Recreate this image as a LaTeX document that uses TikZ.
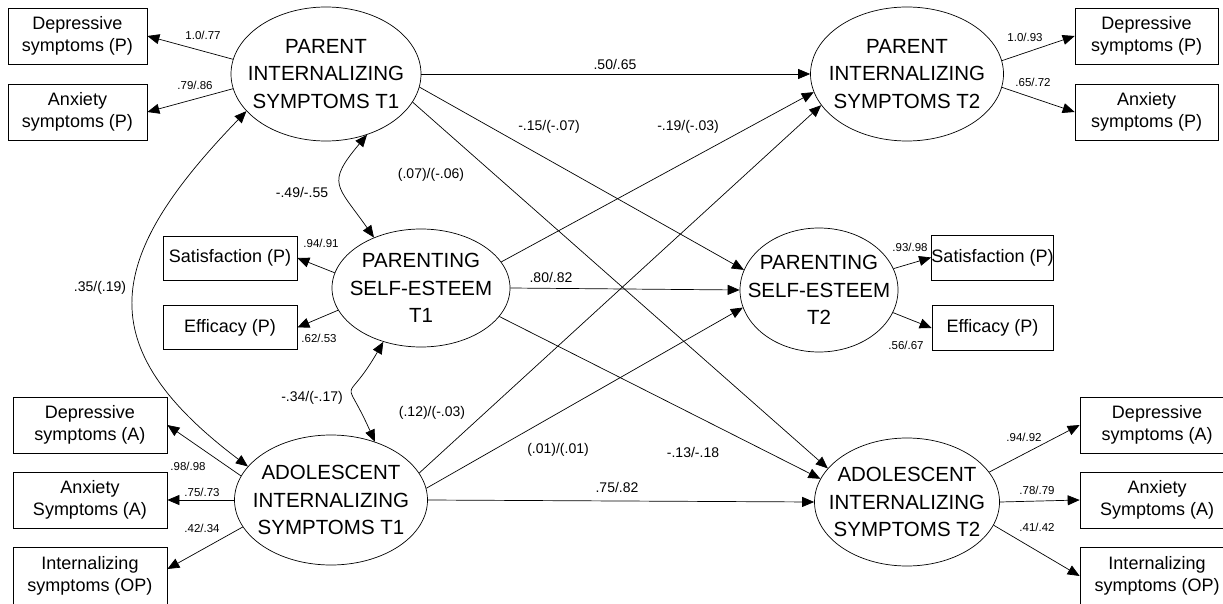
\documentclass[tikz,border=0pt]{standalone}
\usepackage{fontspec}
\setmainfont{Liberation Sans}
\usetikzlibrary{shapes,arrows.meta,positioning,calc}

\begin{document}
\begin{tikzpicture}[x=1pt,y=1pt,>={Triangle[length=12pt,width=10pt]},
    latent/.style={ellipse, draw, line width=0.7pt, align=center,
        inner xsep=-40pt, inner ysep=-20pt, font=\fontsize{20.5}{27.5}\selectfont},
    manifest/.style={rectangle, draw, line width=0.7pt, align=center,
        inner sep=0pt, font=\fontsize{18}{22.5}\selectfont},
    load/.style={font=\fontsize{11.5}{13}\selectfont, inner sep=0pt},
    coef/.style={font=\fontsize{14}{16}\selectfont, inner sep=0pt},
    every path/.style={line width=0.7pt}]
\useasboundingbox (0,0) rectangle (1223,-604);

% Latent variables
\node[latent, minimum width=190pt, minimum height=134pt] (pit1) at (326,-74) {PARENT\\INTERNALIZING\\SYMPTOMS T1};
\node[latent, minimum width=193pt, minimum height=134pt] (pit2) at (907,-74) {PARENT\\INTERNALIZING\\SYMPTOMS T2};
\node[latent, minimum width=178pt, minimum height=118pt] (pse1) at (421,-288) {PARENTING\\SELF-ESTEEM\\T1};
\node[latent, minimum width=158pt, minimum height=124pt] (pse2) at (819,-290) {PARENTING\\SELF-ESTEEM\\T2};
\node[latent, minimum width=193pt, minimum height=130pt] (ait1) at (331,-500) {ADOLESCENT\\INTERNALIZING\\SYMPTOMS T1};
\node[latent, minimum width=185pt, minimum height=128pt] (ait2) at (907,-502) {ADOLESCENT\\INTERNALIZING\\SYMPTOMS T2};

% Indicators
\node[manifest, minimum width=139pt, minimum height=56pt] (depP1) at (77.5,-36) {Depressive\\symptoms (P)};
\node[manifest, minimum width=139pt, minimum height=56pt] (anxP1) at (77.5,-112) {Anxiety\\symptoms (P)};
\node[manifest, minimum width=143pt, minimum height=56pt] (depP2) at (1146.5,-36) {Depressive\\symptoms (P)};
\node[manifest, minimum width=143pt, minimum height=56pt] (anxP2) at (1146.5,-112) {Anxiety\\symptoms (P)};
\node[manifest, minimum width=134pt, minimum height=44pt] (sat1) at (230,-258) {Satisfaction (P)};
\node[manifest, minimum width=134pt, minimum height=44pt] (eff1) at (230,-327.5) {Efficacy (P)};
\node[manifest, minimum width=121pt, minimum height=45pt] (sat2) at (992.5,-257.5) {Satisfaction (P)};
\node[manifest, minimum width=121pt, minimum height=45pt] (eff2) at (992.5,-328) {Efficacy (P)};
\node[manifest, minimum width=154pt, minimum height=56pt] (depA1) at (90,-425) {Depressive\\symptoms (A)};
\node[manifest, minimum width=154pt, minimum height=56pt] (anxA1) at (90,-500) {Anxiety\\Symptoms (A)};
\node[manifest, minimum width=154pt, minimum height=57pt] (intA1) at (90,-576) {Internalizing\\symptoms (OP)};
\node[manifest, minimum width=154pt, minimum height=56pt] (depA2) at (1157,-425) {Depressive\\symptoms (A)};
\node[manifest, minimum width=154pt, minimum height=56pt] (anxA2) at (1157,-500) {Anxiety\\Symptoms (A)};
\node[manifest, minimum width=154pt, minimum height=57pt] (intA2) at (1157,-576) {Internalizing\\symptoms (OP)};

% Loadings
\draw[->] (pit1.171) -- (depP1.east);
\draw[->] (pit1.189) -- (anxP1.east);
\draw[->] (pit2.8) -- (depP2.west);
\draw[->] (pit2.352) -- (anxP2.west);
\draw[->] (pse1.170) -- (sat1.east);
\draw[->] (pse1.195) -- (eff1.east);
\draw[->] (pse2.16) -- (sat2.west);
\draw[->] (pse2.343) -- (eff2.west);
\draw[->] (ait1.165) -- (depA1.east);
\draw[->] (ait1.west) -- (anxA1.east);
\draw[->] (ait1.197) -- ([yshift=7pt]intA1.east);
\draw[->] (ait2.20) -- (depA2.west);
\draw[->] (ait2.east) -- (anxA2.west);
\draw[->] (ait2.345) -- (intA2.west);

% Structural paths
\draw[->] (pit1.east) -- (pit2.west);
\draw[->] (pit1.352) -- (pse2.165);
\draw[->] (pit1.342) -- (ait2.157);
\draw[->] (pse1.18) -- (pit2.191);
\draw[->] (pse1.east) -- (pse2.west);
\draw[->] (pse1.340) -- (ait2.165);
\draw[->] (ait1.17) -- (pit2.200);
\draw[->] (ait1.7) -- (pse2.193);
\draw[->] (ait1.east) -- (ait2.west);

% Covariances
\draw[<->] (pit1.205) to[out=226,in=143,looseness=1.45] (ait1.158);
\draw[<->] (pit1.304) to[out=230,in=125,looseness=1.6] (pse1.133);
\draw[<->] (pse1.235) to[out=240,in=114,looseness=2] (ait1.53);

% Loading labels
\node[load] (lDepP1) at (203,-35) {1.0/.77};
\node[load] (lAnxP1) at (195,-85) {.79/.86};
\node[load] (lDepP2) at (1025,-37) {1.0/.93};
\node[load] (lAnxP2) at (1033,-82) {.65/.72};
\node[load] (lSat1) at (321,-243) {.94/.91};
\node[load] (lEff1) at (319,-338) {.62/.53};
\node[load] (lSat2) at (910,-247) {.93/.98};
\node[load] (lEff2) at (906,-345) {.56/.67};
\node[load] (lDepA1) at (188,-466) {.98/.98};
\node[load] (lAnxA1) at (202,-492) {.75/.73};
\node[load] (lIntA1) at (202,-528) {.42/.34};
\node[load] (lDepA2) at (1024,-437) {.94/.92};
\node[load] (lAnxA2) at (1037,-490) {.78/.79};
\node[load] (lIntA2) at (1037,-527) {.41/.42};

% Path labels
\node[coef] (cPP) at (615,-64) {.50/.65};
\node[coef] (cPS) at (549,-127) {-.15/(-.07)};
\node[coef] (cSP) at (688,-127) {-.19/(-.03)};
\node[coef] (cPA) at (431,-175) {(.07)/(-.06)};
\node[coef] (cvPS) at (302,-192) {-.49/-.55};
\node[coef] (cSS) at (551,-277) {.80/.82};
\node[coef] (cvSA) at (312,-398) {-.34/(-.17)};
\node[coef] (cAP) at (432,-413) {(.12)/(-.03)};
\node[coef] (cAS) at (558,-450) {(.01)/(.01)};
\node[coef] (cSA) at (693,-452) {-.13/-.18};
\node[coef] (cAA) at (617,-487) {.75/.82};
\node[coef] (cvPA) at (100,-288) {.35/(.19)};
\end{tikzpicture}
\end{document}
